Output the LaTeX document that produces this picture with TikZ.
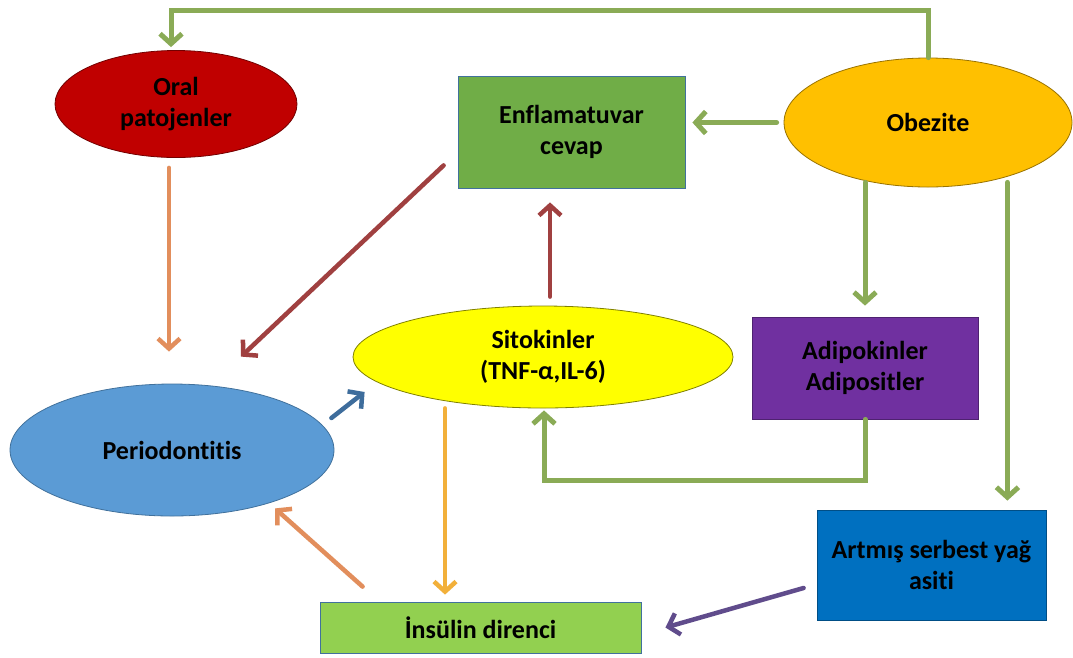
\documentclass[tikz,border=0pt]{standalone}
\usepackage{fontspec}
\setmainfont{Carlito}[Ligatures=NoCommon]
\usetikzlibrary{shapes.geometric,arrows.meta,calc}
\definecolor{garr}{RGB}{138,171,86}
\definecolor{redarr}{RGB}{160,64,64}
\definecolor{orarr}{RGB}{226,142,92}
\definecolor{yorarr}{RGB}{242,176,58}
\definecolor{bluarr}{RGB}{62,109,156}
\definecolor{purarr}{RGB}{96,76,140}
\definecolor{oralc}{RGB}{192,0,0}
\definecolor{enflc}{RGB}{112,173,71}
\definecolor{obezc}{RGB}{255,192,0}
\definecolor{sitoc}{RGB}{255,255,0}
\definecolor{adipc}{RGB}{112,48,160}
\definecolor{peric}{RGB}{91,155,213}
\definecolor{insc}{RGB}{146,208,80}
\definecolor{artc}{RGB}{0,112,192}
\definecolor{edgec}{RGB}{65,113,156}
\tikzset{
  lbl/.style={font=\bfseries\fontsize{26}{31}\selectfont, text=black, align=center, inner sep=0pt},
  ell/.style={lbl, ellipse, draw=#1, line width=0.8pt},
  box/.style={lbl, rectangle, draw=#1, line width=0.8pt},
  conn/.style={line width=4.5pt, -{Straight Barb[length=10pt,width=22pt]}, line cap=round},
  garrow/.style={conn, draw=garr, line width=5pt},
}
\begin{document}
\begin{tikzpicture}[x=1pt,y=-1pt]
\useasboundingbox (0,0) rectangle (1073,657);
\fill[white] (0,0) rectangle (1073,657);

% nodes
\node[ell=oralc!60!black, fill=oralc, minimum width=242pt, minimum height=107pt] (oral) at (176,104) {Oral\\patojenler};
\node[box=edgec, fill=enflc, minimum width=227pt, minimum height=112pt] (enfl) at (571.5,132) {Enflamatuvar\\cevap};
\node[ell=obezc!60!black, fill=obezc, minimum width=288pt, minimum height=129pt] (obez) at (928,122.5) {Obezite};
\node[ell=sitoc!50!black, fill=sitoc, minimum width=380pt, minimum height=102pt] (sito) at (543,357) {Sitokinler\\(TNF-α,IL-6)};
\node[box=adipc!70!black, fill=adipc, minimum width=226pt, minimum height=102pt] (adip) at (865,368) {Adipokinler\\Adipositler};
\node[ell=edgec, fill=peric, minimum width=324pt, minimum height=132pt] (peri) at (172,450) {Periodontitis};
\node[box=edgec, fill=insc, minimum width=321pt, minimum height=51pt] (ins) at (480.5,627.5) {İnsülin direnci};
\node[box=artc!70!black, fill=artc, minimum width=229pt, minimum height=110pt] (art) at (931.5,565) {Artmış serbest yağ\\asiti};

% connectors
\coordinate (topy) at (0,10);
\draw[garrow] (obez.north) -- (obez.north |- topy) -| ($(oral.north)+(-5,-3)$);
\draw[garrow] ($(obez.west)+(-7,0)$) -- ($(enfl.east |- obez.west)+(7,0)$);
\draw[garrow] ($(adip.north |- obez.south)+(0,-5)$) -- ($(adip.north)+(0,-11)$);
\draw[garrow] ($(art.north east |- obez.south)+(-39,-5)$) -- ($(art.north east)+(-39,-9)$);
\draw[garrow] (adip.south) -- ++(0,61) -| ($(sito.south)+(1,2)$);

\draw[conn, draw=redarr] ($(sito.north)+(7,-9)$) -- ($(enfl.south)+(-21.5,14)$);
\draw[conn, draw=redarr] ($(enfl.south west)+(-14,-23)$) -- ($(peri.north)+(69,-27)$);
\draw[conn, draw=orarr] ($(oral.south)+(-7,10)$) -- ($(peri.north)+(-3,-32)$);
\draw[conn, draw=bluarr] ($(peri.east)+(-3,-32)$) -- ($(sito.west)+(12,35)$);
\draw[conn, draw=yorarr] ($(sito.south)+(-98,0)$) -- ($(ins.north)+(-35.5,-7)$);
\draw[conn, draw=orarr] ($(ins.north west)+(43,-15)$) -- ($(peri.south)+(103,-8)$);
\draw[conn, draw=purarr] ($(art.west)+(-13,23)$) -- ($(ins.east)+(24,0)$);
\end{tikzpicture}
\end{document}
